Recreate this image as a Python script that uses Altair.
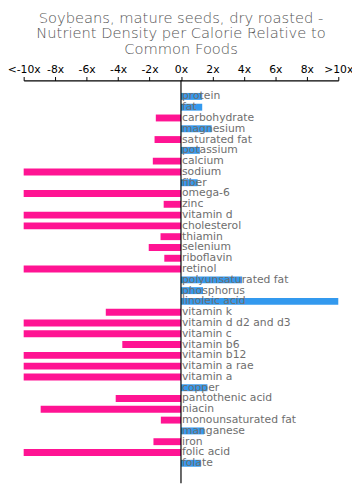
import altair as alt
import pandas as pd

nutrients = [
    "protein", "fat", "carbohydrate", "magnesium", "saturated fat", "potassium",
    "calcium", "sodium", "fiber", "omega-6", "zinc", "vitamin d", "cholesterol",
    "thiamin", "selenium", "riboflavin", "retinol", "polyunsaturated fat",
    "phosphorus", "linoleic acid", "vitamin k", "vitamin d d2 and d3", "vitamin c",
    "vitamin b6", "vitamin b12", "vitamin a rae", "vitamin a", "copper",
    "pantothenic acid", "niacin", "monounsaturated fat", "manganese", "iron",
    "folic acid", "folate",
]
density = [
    1.35, 1.35, -1.6, 1.95, -1.68, 1.2,
    -1.79, -10, 1.06, -10, -1.1, -10, -10,
    -1.3, -2.05, -1.06, -10, 3.89,
    1.4, 10, -4.78, -10, -10,
    -3.73, -10, -10, -10, 1.68,
    -4.15, -8.92, -1.28, 1.47, -1.75,
    -10, 1.28,
]
tick_values = [-10, -8, -6, -4, -2, 0, 2, 4, 6, 8, 10]

df = pd.DataFrame({"nutrient": nutrients, "value": density})
df["sign"] = ["pos" if v > 0 else "neg" for v in density]
df["zero"] = 0
df["row"] = list(range(len(nutrients)))

W = 321
H = 411

label_expr = ("datum.value <= -10 ? '<-10x' : datum.value >= 10 ? '>10x' : "
              "replace(format(datum.value, 'd'), '\u2212', '-') + 'x'")

x_scale = alt.Scale(domain=[-10, 10], nice=False, zero=False)
y_scale = alt.Scale(domain=[-1.48, 35.85], reverse=True, nice=False, zero=False)
x_axis = alt.Axis(orient="top", values=tick_values, labelExpr=label_expr,
                  grid=False, domainColor="black", tickColor="black",
                  tickSize=4, labelColor="black", labelFont="DejaVu Sans",
                  labelFontSize=11, labelPadding=2, title=None,
                  domainWidth=1.2, labelFlush=False, labelOverlap=False)

base = alt.Chart(df).transform_calculate(
    top="datum.row - 0.32", bot="datum.row + 0.32"
)

bars = base.mark_bar().encode(
    x=alt.X("value:Q", scale=x_scale, axis=x_axis, title=None),
    x2="zero:Q",
    y=alt.Y("top:Q", scale=y_scale, axis=None),
    y2="bot:Q",
    color=alt.Color("sign:N", scale=alt.Scale(domain=["pos", "neg"],
                                              range=["#3399ee", "#ff1493"]),
                    legend=None),
)

labels = alt.Chart(df).mark_text(
    align="left", baseline="middle", dx=1, font="DejaVu Sans", fontSize=11,
    color="#6e6e6e"
).encode(
    x=alt.X("zero:Q", scale=x_scale, axis=x_axis, title=None),
    y=alt.Y("row:Q", scale=y_scale, axis=None),
    text="nutrient:N",
)

zero_rule = alt.Chart(df).transform_filter("datum.row == 0").mark_rule(
    color="black", strokeWidth=1.2
).encode(
    x=alt.X("zero:Q", scale=x_scale, axis=x_axis, title=None),
    y=alt.value(0),
    y2=alt.value(H),
)

chart = alt.layer(bars, labels, zero_rule).properties(
    width=W,
    height=H,
    padding={"left": 16, "right": 14, "top": 69, "bottom": 2},
    autosize=alt.AutoSizeParams(type="none"),
    title=alt.TitleParams(
        text=["Soybeans, mature seeds, dry roasted -",
              "Nutrient Density per Calorie Relative to",
              "Common Foods"],
        font="DejaVu Sans", fontSize=15, fontWeight=200, color="#555555",
        lineHeight=16, anchor="middle", offset=-8, baseline="bottom",
    ),
).configure_view(stroke=None)

chart.save("out.html", embed_options={"renderer": "svg", "actions": False})
